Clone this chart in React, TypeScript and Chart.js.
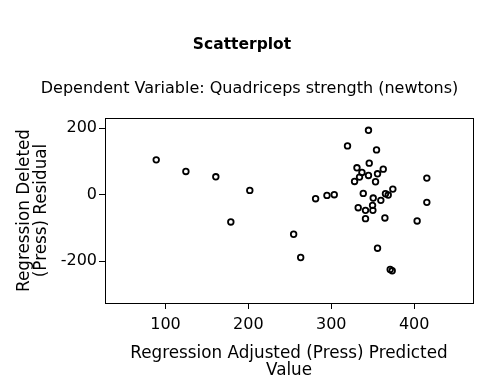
import React, { useEffect, useRef } from "react";
import { Chart, registerables } from "chart.js";

Chart.register(...registerables);

const chartTitle = "Scatterplot";
const chartSubtitle = "Dependent Variable: Quadriceps strength (newtons)";
const xAxisTitle = ["Regression Adjusted (Press) Predicted", "Value"];
const yAxisTitle = ["Regression Deleted", "(Press) Residual"];
const xTicks = [100, 200, 300, 400];
const yTicks = [-200, 0, 200];

const predictedValues = [
  88.8, 124.6, 160.7, 178.8, 201.7, 344.9, 319.6, 354.6, 345.8, 331, 362.7, 337,
  344.9, 355.8, 334.1, 328.1, 353.4, 415.3, 338.6, 374.3, 365.4, 368.7, 350.6,
  359.8, 281.1, 294.8, 303.6, 349.8, 332.5, 341.3, 350.2, 415.3, 341.3, 364.7,
  403.6, 254.6, 355.8, 263.1, 371.1, 373.5,
];
const residualValues = [
  105, 70, 54, -82, 13, 194, 147, 135, 95, 81, 77, 67, 58, 63, 53, 40, 39, 50, 4,
  17, 3, -1, -10, -17, -12, -2, 0, -32, -39, -47, -47, -23, -72, -70, -79, -119,
  -161, -189, -225, -229,
];

const FONT = "'DejaVu Sans', sans-serif";

export default function App() {
  const ref = useRef<HTMLCanvasElement | null>(null);
  useEffect(() => {
    document.body.style.margin = "0";
    const canvas = ref.current;
    if (!canvas) return;
    const points = predictedValues.map((x, i) => ({ x, y: residualValues[i] }));

    const framePlugin = {
      id: "frameAndTitles",
      beforeDraw(chart: any) {
        const { ctx } = chart;
        ctx.save();
        ctx.fillStyle = "#fff";
        ctx.fillRect(0, 0, chart.width, chart.height);
        ctx.restore();
      },
      afterDraw(chart: any) {
        const { ctx, chartArea } = chart;
        ctx.save();
        ctx.strokeStyle = "#000";
        ctx.lineWidth = 1;
        ctx.strokeRect(
          Math.round(chartArea.left) + 0.5,
          Math.round(chartArea.top) + 0.5,
          Math.round(chartArea.right - chartArea.left),
          Math.round(chartArea.bottom - chartArea.top)
        );
        ctx.fillStyle = "#000";
        ctx.textAlign = "center";
        ctx.textBaseline = "middle";
        ctx.font = `bold 15.5px ${FONT}`;
        ctx.fillText(chartTitle, 242, 45);
        ctx.font = `16px ${FONT}`;
        ctx.fillText(chartSubtitle, 249.5, 89);
        ctx.restore();
      },
    };

    const chart = new Chart(canvas, {
      type: "scatter",
      data: {
        datasets: [
          {
            data: points,
            pointRadius: 2.8,
            pointBorderWidth: 1.8,
            pointBorderColor: "#000",
            pointBackgroundColor: "rgba(255,255,255,0)",
            pointHoverRadius: 2.8,
          },
        ],
      },
      options: {
        responsive: false,
        animation: false,
        layout: { padding: { top: 118, right: 11, left: 0, bottom: 0 } },
        plugins: {
          legend: { display: false },
          tooltip: { enabled: false },
          title: { display: false },
        },
        scales: {
          x: {
            type: "linear",
            min: 27,
            max: 471,
            afterBuildTicks: (s: any) => {
              s.ticks = xTicks.map((v) => ({ value: v }));
            },
            afterFit: (s: any) => {
              s.height = 84;
            },
            border: { display: false },
            grid: {
              drawOnChartArea: false,
              drawTicks: true,
              tickLength: 6,
              color: "#000",
              tickColor: "#000",
            },
            ticks: {
              color: "#000",
              font: { family: FONT, size: 16 },
              padding: 6,
              maxRotation: 0,
            },
            title: {
              display: true,
              text: xAxisTitle,
              color: "#000",
              font: { family: FONT, size: 16.8, lineHeight: 1 },
              padding: { top: 0, bottom: 8 },
            },
          },
          y: {
            type: "linear",
            min: -326,
            max: 231,
            afterBuildTicks: (s: any) => {
              s.ticks = yTicks.map((v) => ({ value: v }));
            },
            afterFit: (s: any) => {
              s.width = 105;
            },
            border: { display: false },
            grid: {
              drawOnChartArea: false,
              drawTicks: true,
              tickLength: 6,
              color: "#000",
              tickColor: "#000",
            },
            ticks: {
              color: "#000",
              font: { family: FONT, size: 16 },
              padding: 2,
            },
            title: {
              display: true,
              text: yAxisTitle,
              color: "#000",
              font: { family: FONT, size: 16.8, lineHeight: 1.02 },
              padding: { top: 16, bottom: 0 },
            },
          },
        },
      },
      plugins: [framePlugin],
    });
    return () => chart.destroy();
  }, []);
  return <canvas ref={ref} width={484} height={387} style={{ display: "block" }} />;
}
